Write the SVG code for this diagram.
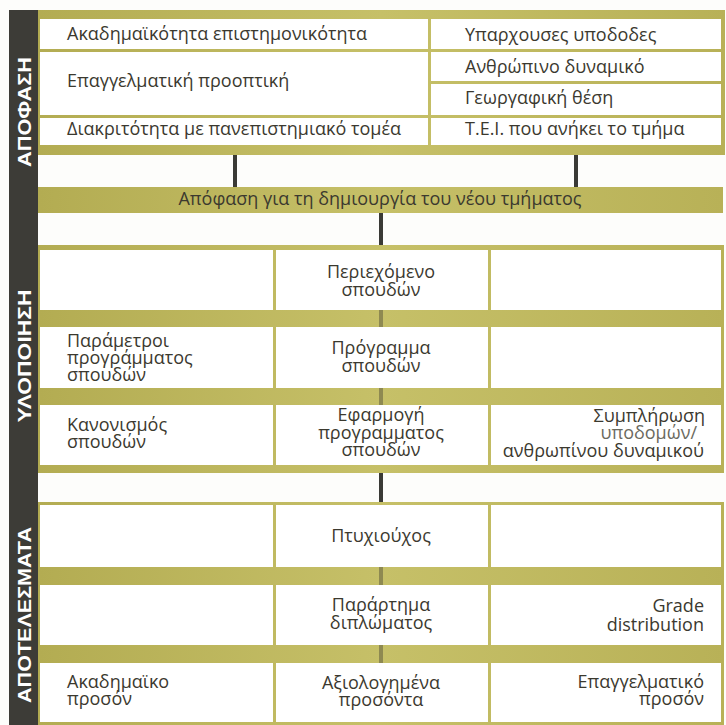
<svg xmlns="http://www.w3.org/2000/svg" width="726" height="725" viewBox="0 0 726 725">
<defs>
<linearGradient id="olive" x1="0" y1="0" x2="1" y2="0">
<stop offset="0" stop-color="#b3ac52"/>
<stop offset="0.5" stop-color="#c6c068"/>
<stop offset="1" stop-color="#b8b157"/>
</linearGradient>
<linearGradient id="hline" x1="0" y1="0" x2="1" y2="0">
<stop offset="0" stop-color="#3c3b33"/>
<stop offset="1" stop-color="#5a5838"/>
</linearGradient>
</defs>
<style>
.frame{fill:url(#olive)}
.cell{fill:#ffffff}
.t{font-family:"Open Sans","Liberation Sans",sans-serif;font-size:18px;fill:#3b392f}
.m{text-anchor:middle}
.r{text-anchor:end}
.side{font-family:"Liberation Sans",sans-serif;font-weight:bold;font-size:18px;fill:#ffffff;text-anchor:middle}
.v{stroke:#3a3a36;stroke-width:4;fill:none}
.vb{stroke:#4a4836;stroke-width:4;opacity:0.45;fill:none}
.h{stroke:url(#hline);stroke-width:4;fill:none}
</style>
<rect width="726" height="725" fill="#fdfdfb"/>

<!-- left side bar -->
<g id="sidebar">
<rect x="9" y="10" width="29" height="715" fill="#3d3c37"/>
<text class="side" transform="translate(31,112) rotate(-90)" textLength="110" lengthAdjust="spacingAndGlyphs">ΑΠΟΦΑΣΗ</text>
<text class="side" transform="translate(31,356) rotate(-90)" textLength="133" lengthAdjust="spacingAndGlyphs">ΥΛΟΠΟΙΗΣΗ</text>
<text class="side" transform="translate(31,615) rotate(-90)" textLength="176" lengthAdjust="spacingAndGlyphs">ΑΠΟΤΕΛΕΣΜΑΤΑ</text>
</g>

<!-- section frames -->
<g id="frames">
<rect class="frame" x="38" y="10" width="687" height="145"/>
<rect class="frame" x="38" y="187" width="685" height="26"/>
<rect class="frame" x="38" y="245" width="686" height="228"/>
<rect class="frame" x="38" y="502" width="686" height="223"/>
</g>

<!-- connectors -->
<g id="connectors">
<line class="v" x1="235" y1="155" x2="235" y2="187"/>
<line class="v" x1="576" y1="155" x2="576" y2="187"/>
<line class="v" x1="381" y1="213" x2="381" y2="245"/>
<line class="vb" x1="381" y1="310" x2="381" y2="327"/>
<line class="vb" x1="381" y1="388" x2="381" y2="405"/>
<line class="v" x1="381" y1="473" x2="381" y2="502"/>
<line class="vb" x1="381" y1="567" x2="381" y2="585"/>
<line class="vb" x1="381" y1="645" x2="381" y2="663"/>
<line class="h" x1="210" y1="357" x2="273" y2="357"/>
<line class="h" x1="210" y1="436" x2="273" y2="436"/>
<line class="h" x1="491" y1="436" x2="555" y2="436"/>
<line class="h" x1="491" y1="613" x2="555" y2="613"/>
<line class="h" x1="210" y1="692" x2="273" y2="692"/>
<line class="h" x1="491" y1="692" x2="555" y2="692"/>
</g>

<!-- section 1 -->
<g id="akadimaikotita"><rect class="cell" x="40" y="19" width="388" height="30"/><text class="t" x="67" y="40">Ακαδημαϊκότητα επιστημονικότητα</text></g>
<g id="epaggelmatiki"><rect class="cell" x="40" y="52" width="388" height="63"/><text class="t" x="67" y="87">Επαγγελματική προοπτική</text></g>
<g id="diakritotita"><rect class="cell" x="40" y="118" width="388" height="27"/><text class="t" x="67" y="135">Διακριτότητα με πανεπιστημιακό τομέα</text></g>
<g id="ypodomes"><rect class="cell" x="431" y="19" width="290" height="30"/><text class="t" x="465" y="41">Υπαρχουσες υποδοδες</text></g>
<g id="anthropino"><rect class="cell" x="431" y="52" width="290" height="29"/><text class="t" x="465" y="73">Ανθρώπινο δυναμικό</text></g>
<g id="geografiki"><rect class="cell" x="431" y="84" width="290" height="31"/><text class="t" x="465" y="104">Γεωργαφική θέση</text></g>
<g id="tei"><rect class="cell" x="431" y="118" width="290" height="27"/><text class="t" x="465" y="135">Τ.Ε.Ι. που ανήκει το τμήμα</text></g>

<!-- decision bar -->
<g id="apofasi"><text class="t m" x="380" y="205">Απόφαση για τη δημιουργία του νέου τμήματος</text></g>

<!-- section 2 -->
<g id="s2-l1"><rect class="cell" x="40" y="250" width="233" height="60"/></g>
<g id="periexomeno"><rect class="cell" x="276" y="250" width="212" height="60"/><text class="t m" x="381" y="278">Περιεχόμενο</text><text class="t m" x="381" y="296">σπουδών</text></g>
<g id="s2-r1"><rect class="cell" x="491" y="250" width="230" height="60"/></g>
<g id="parametroi"><rect class="cell" x="40" y="327" width="233" height="61"/><text class="t" x="67" y="347">Παράμετροι</text><text class="t" x="67" y="364">προγράμματος</text><text class="t" x="67" y="381">σπουδών</text></g>
<g id="programma"><rect class="cell" x="276" y="327" width="212" height="61"/><text class="t m" x="381" y="354">Πρόγραμμα</text><text class="t m" x="381" y="372">σπουδών</text></g>
<g id="s2-r2"><rect class="cell" x="491" y="327" width="230" height="61"/></g>
<g id="kanonismos"><rect class="cell" x="40" y="405" width="233" height="60"/><text class="t" x="67" y="431">Κανονισμός</text><text class="t" x="67" y="448">σπουδών</text></g>
<g id="efarmogi"><rect class="cell" x="276" y="405" width="212" height="60"/><text class="t m" x="381" y="421">Εφαρμογή</text><text class="t m" x="381" y="439">προγραμματος</text><text class="t m" x="381" y="456">σπουδών</text></g>
<g id="symplirosi"><rect class="cell" x="491" y="405" width="230" height="60"/><text class="t r" x="705" y="422">Συμπλήρωση</text><text class="t r" x="697" y="439" style="fill:#6b6a60">υποδομών/</text><text class="t r" x="704" y="457">ανθρωπίνου δυναμικού</text></g>

<!-- section 3 -->
<g id="s3-l1"><rect class="cell" x="40" y="505" width="233" height="62"/></g>
<g id="ptyxiouxos"><rect class="cell" x="276" y="505" width="212" height="62"/><text class="t m" x="381" y="542">Πτυχιούχος</text></g>
<g id="s3-r1"><rect class="cell" x="491" y="505" width="230" height="62"/></g>
<g id="s3-l2"><rect class="cell" x="40" y="585" width="233" height="60"/></g>
<g id="parartima"><rect class="cell" x="276" y="585" width="212" height="60"/><text class="t m" x="381" y="611">Παράρτημα</text><text class="t m" x="381" y="629">διπλώματος</text></g>
<g id="grade"><rect class="cell" x="491" y="585" width="230" height="60"/><text class="t r" x="704" y="612">Grade</text><text class="t r" x="704" y="631">distribution</text></g>
<g id="akadimaiko"><rect class="cell" x="40" y="663" width="233" height="59"/><text class="t" x="67" y="688">Ακαδημαϊκο</text><text class="t" x="67" y="705">προσόν</text></g>
<g id="axiologimena"><rect class="cell" x="276" y="663" width="212" height="59"/><text class="t m" x="381" y="689">Αξιολογημένα</text><text class="t m" x="381" y="706">προσόντα</text></g>
<g id="epaggelmatiko"><rect class="cell" x="491" y="663" width="230" height="59"/><text class="t r" x="704" y="688">Επαγγελματικό</text><text class="t r" x="704" y="705">προσόν</text></g>
</svg>
